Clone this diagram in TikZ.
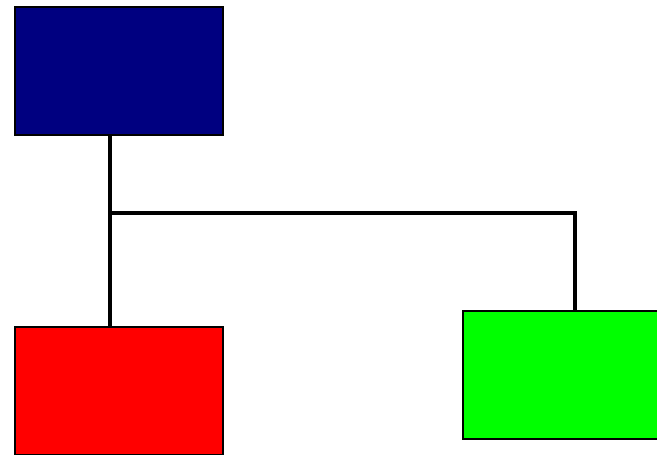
\documentclass[tikz,border=0pt]{standalone}
\definecolor{navybox}{RGB}{0,0,128}
\definecolor{redbox}{RGB}{255,0,0}
\definecolor{greenbox}{RGB}{0,255,0}
\tikzset{
  block/.style={draw=black,line width=2.2pt,minimum width=208pt,minimum height=128pt,inner sep=0pt,anchor=north west},
  wire/.style={line width=4.6pt}
}
\begin{document}
\begin{tikzpicture}[x=1pt,y=-1pt]
\useasboundingbox (0,0) rectangle (657,455);
\node[block,fill=navybox] (top) at (14,6) {};
\node[block,fill=redbox] (left) at (14,326) {};
\node[block,fill=greenbox] (right) at (462,310) {};
\coordinate (split) at (110,213);
\coordinate (turn) at (575,213);
\draw[wire] (split |- top.south) -- (split |- left.north);
\draw[wire] (split) -- (turn) -- (turn |- right.north);
\end{tikzpicture}
\end{document}
